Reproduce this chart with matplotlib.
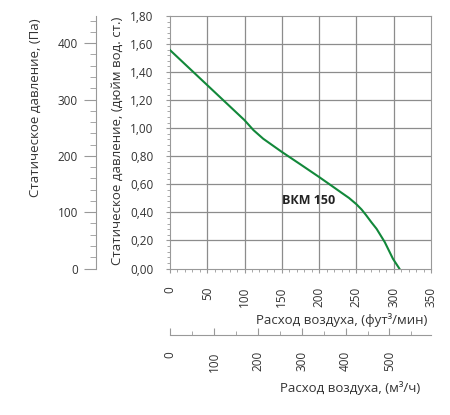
import numpy as np
import matplotlib.pyplot as plt
from matplotlib.ticker import MultipleLocator, FuncFormatter

plt.rcParams['font.family'] = ['Open Sans', 'DejaVu Sans']

# кривая ВКМ 150: расход (фут³/мин) и статическое давление (дюйм вод. ст.)
cfm = [0, 25, 50, 75, 100, 112, 125, 150, 175, 200, 214, 230, 240, 250, 257, 263, 270,
       277, 288, 299, 307.5]
inch_wg = [1.557, 1.432, 1.307, 1.182, 1.057, 0.986, 0.925, 0.831, 0.742, 0.652, 0.600,
           0.540, 0.503, 0.458, 0.420, 0.380, 0.330, 0.283, 0.188, 0.069, 0.0]
model = "ВКМ 150"

pa_per_inch = 249.09
m3h_per_cfm = 1.699

txt = '#333333'
gcol = '#999999'
fig = plt.figure(figsize=(4.5, 4.15), dpi=100)

# основной график
ax = fig.add_axes([170/450, 1 - 268.5/415, 261/450, 252.5/415])
ax.plot(cfm, inch_wg, color='#12883a', lw=1.5, zorder=5)
ax.set_xlim(0, 350)
ax.set_ylim(0, 1.8)
ax.xaxis.set_major_locator(MultipleLocator(50))
ax.xaxis.set_minor_locator(MultipleLocator(10))
ax.yaxis.set_major_locator(MultipleLocator(0.2))
ax.yaxis.set_minor_locator(MultipleLocator(0.04))
ax.yaxis.set_major_formatter(FuncFormatter(lambda v, p: f"{v:.2f}".replace('.', ',')))
ax.tick_params(which='major', length=3, color=gcol, labelsize=8.5, labelcolor=txt)
ax.tick_params(which='minor', length=2, color=gcol)
ax.tick_params(axis='y', which='major', pad=9)
ax.tick_params(axis='x', which='major', pad=10, labelrotation=90)
for s in ax.spines.values():
    s.set_color(gcol)

# сетка по основным делениям (поверх всего, кроме кривой)
xt = ax.xaxis.get_majorticklocs()
yt = ax.yaxis.get_majorticklocs()
ax.vlines(xt[(xt > 0) & (xt < 350)], 0, 1, transform=ax.get_xaxis_transform(),
          color='#8c8c8c', lw=0.9, zorder=4)
ax.hlines(yt[(yt > 0) & (yt < 1.8)], 0, 1, transform=ax.get_yaxis_transform(),
          color='#8c8c8c', lw=0.9, zorder=4)

ax.text(186, 0.486, model, fontsize=9, fontweight='bold', color='#222222',
        ha='center', va='center', zorder=6)

# шкала в Па
ax_pa = ax.secondary_yaxis(-74/261, functions=(lambda v: v * pa_per_inch,
                                               lambda v: v / pa_per_inch))
ax_pa.yaxis.set_major_locator(MultipleLocator(100))
ax_pa.yaxis.set_minor_locator(MultipleLocator(20))
ax_pa.spines['left'].set_color(gcol)
ax_pa.tick_params(which='major', length=9, color=gcol, labelsize=8.5, labelcolor=txt, pad=4)
ax_pa.tick_params(which='minor', length=4, color=gcol)

# шкала в м³/ч
ax_m3 = ax.secondary_xaxis(-66/252.5, functions=(lambda v: v * m3h_per_cfm,
                                                 lambda v: v / m3h_per_cfm))
ax_m3.xaxis.set_major_locator(MultipleLocator(100))
ax_m3.xaxis.set_minor_locator(MultipleLocator(50))
ax_m3.spines['bottom'].set_color(gcol)
ax_m3.tick_params(axis='x', which='major', direction='in', length=5, color=gcol,
                  labelsize=8.5, labelcolor=txt, labelrotation=90, pad=12)
ax_m3.tick_params(axis='x', which='minor', direction='in', length=3, color=gcol)

fig.text(35/450, 1 - 108/415, "Статическое давление, (Па)", rotation=90,
         ha='center', va='center', fontsize=9.5, color=txt)
fig.text(117/450, 1 - 141/415, "Статическое давление, (дюйм вод. ст.)", rotation=90,
         ha='center', va='center', fontsize=9.5, color=txt)
fig.text(427/450, 1 - 320/415, "Расход воздуха, (фут³/мин)",
         ha='right', va='center', fontsize=9.5, color=txt)
fig.text(420/450, 1 - 388/415, "Расход воздуха, (м³/ч)",
         ha='right', va='center', fontsize=9.5, color=txt)

fig.savefig('out.png', dpi=100)
